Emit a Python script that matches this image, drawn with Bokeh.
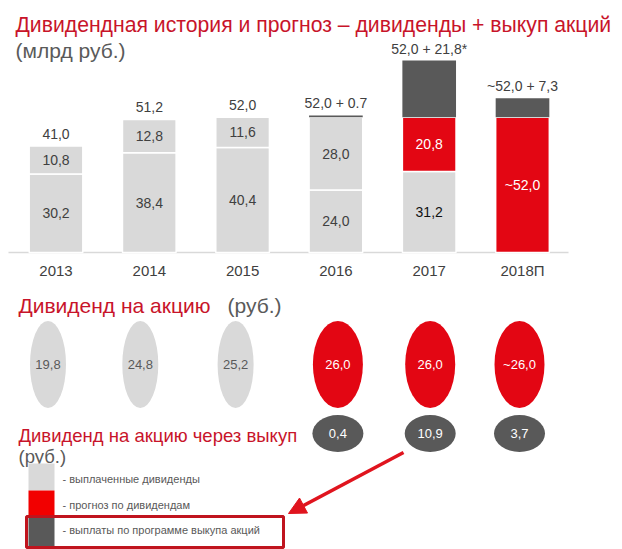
from bokeh.plotting import figure
from bokeh.models import Range1d, ColumnDataSource, Arrow, NormalHead
from bokeh.core.properties import value
from bokeh.embed import file_html
from bokeh.resources import INLINE

# ---------------- data ----------------
years = ["2013", "2014", "2015", "2016", "2017", "2018П"]
paid_base = [30.2, 38.4, 40.4, 24.0, 31.2, 0.0]
paid_top = [10.8, 12.8, 11.6, 28.0, 0.0, 0.0]
forecast = [0.0, 0.0, 0.0, 0.0, 20.8, 52.0]
buyback = [0.0, 0.0, 0.0, 0.7, 21.8, 7.3]
total_labels = ["41,0", "51,2", "52,0", "52,0 + 0.7", "52,0 + 21,8*", "~52,0 + 7,3"]
base_labels = ["30,2", "38,4", "40,4", "24,0", "31,2", ""]
top_labels = ["10,8", "12,8", "11,6", "28,0", "", ""]
forecast_labels = ["", "", "", "", "20,8", "~52,0"]

dps = [19.8, 24.8, 25.2, 26.0, 26.0, 26.0]
dps_labels = ["19,8", "24,8", "25,2", "26,0", "26,0", "~26,0"]
dps_kind = ["paid", "paid", "paid", "forecast", "forecast", "forecast"]

bb_years = ["2016", "2017", "2018П"]
bb_dps = [0.4, 10.9, 3.7]
bb_dps_labels = ["0,4", "10,9", "3,7"]

legend_labels = ["- выплаченные дивиденды", "- прогноз по дивидендам",
                 "- выплаты по программе выкупа акций"]

title1 = "Дивидендная история и прогноз – дивиденды + выкуп акций"
title2 = "(млрд руб.)"
head2 = "Дивиденд на акцию"
head3 = "Дивиденд на акцию через выкуп"
unit_rub = "(руб.)"

# ---------------- layout ----------------
W, H = 622, 549
PXU = 2.6      # pixels per bln rub
PXC = 93.3     # pixels per category
BASE_PY = 252
X_LO = -55.5 / PXC
X_HI = X_LO + W / PXC
Y_HI = BASE_PY / PXU
Y_LO = Y_HI - H / PXU


def X(px):
    return X_LO + px / PXC


def Y(py):
    return Y_HI - py / PXU


LGRAY = "#d9d9d9"
RED = "#e30613"
DGRAY = "#595959"
TRED = "#c8142a"
TXT = "#404040"
FONT = value("Liberation Sans")

p = figure(width=W, height=H, x_range=Range1d(X_LO, X_HI), y_range=Range1d(Y_LO, Y_HI),
           output_backend="svg", toolbar_location=None, min_border=0,
           x_axis_location=None, y_axis_location=None)
p.grid.visible = False
p.outline_line_color = None
p.background_fill_color = "white"
p.border_fill_color = "white"

idx = list(range(len(years)))

# baseline
p.segment(x0=[X(8)], y0=[0], x1=[X(568)], y1=[0], line_color=LGRAY, line_width=1.5)

# stacked bars
b1 = paid_base
b2 = [a + b for a, b in zip(b1, paid_top)]
b3 = [a + b for a, b in zip(b2, forecast)]
b4 = [a + b for a, b in zip(b3, buyback)]
layers = [([0] * 6, b1, LGRAY, "white"), (b1, b2, LGRAY, "white"),
          (b2, b3, RED, "white"), (b3, b4, DGRAY, None)]
for bot, top, col, lc in layers:
    xs = [i for i in idx if top[i] > bot[i]]
    p.vbar(x=xs, bottom=[bot[i] for i in xs], top=[top[i] for i in xs], width=0.575,
           fill_color=col, line_color=lc, line_width=1.5)


def txt(x, y, text, size, color, align="center", baseline="middle", **kw):
    src = ColumnDataSource(dict(x=x, y=y, text=text, color=color))
    p.text(x="x", y="y", text="text", source=src, text_color="color",
           text_font=FONT, text_font_size=value(size), text_align=align,
           text_baseline=baseline, **kw)


# labels in segments
bl_col = [TXT, TXT, TXT, TXT, "#111111", TXT]
ii = [i for i in idx if base_labels[i]]
txt(ii, [b1[i] / 2 for i in ii], [base_labels[i] for i in ii], "14px", [bl_col[i] for i in ii])
ii = [i for i in idx if top_labels[i]]
txt(ii, [(b1[i] + b2[i]) / 2 for i in ii], [top_labels[i] for i in ii], "14px", [TXT] * len(ii))
ii = [i for i in idx if forecast_labels[i]]
txt(ii, [(b2[i] + b3[i]) / 2 for i in ii], [forecast_labels[i] for i in ii], "14px", ["white"] * len(ii))
# totals
txt(idx, b4, total_labels, "14px", [TXT] * 6, y_offset=-12)
# years
txt(idx, [Y(270)] * 6, years, "15px", [TXT] * 6)

# headings
txt([X(15)], [Y(24)], [title1], "21.2px", [TRED], align="left", baseline="alphabetic")
txt([X(15)], [Y(50)], [title2], "21px", ["#5a5a5a"], align="left", baseline="alphabetic")
txt([X(18)], [Y(305)], [head2], "21px", [TRED], align="left", baseline="alphabetic")
txt([X(227)], [Y(305)], [unit_rub], "21px", ["#5a5a5a"], align="left", baseline="alphabetic")
txt([X(18)], [Y(435)], [head3], "18.5px", [TRED], align="left", baseline="alphabetic")
txt([X(18)], [Y(456)], [unit_rub], "18.5px", ["#5a5a5a"], align="left", baseline="alphabetic")

# dividend per share ellipses
dps_dx = [-8, -9, -7, 2, 1, -3]
ex = [i + d / PXC for i, d in zip(idx, dps_dx)]
ecol = [LGRAY if k == "paid" else RED for k in dps_kind]
ew = [36 if k == "paid" else 50 for k in dps_kind]
p.ellipse(x=ex, y=[Y(364)] * 6, width=ew, height=[87] * 6, width_units="screen",
          height_units="screen", fill_color=ecol, line_color=None)
tcol = ["#595959" if k == "paid" else "white" for k in dps_kind]
txt(ex, [Y(364)] * 6, dps_labels, "13px", tcol)

# buyback per share ellipses
bx = [years.index(y) + dps_dx[years.index(y)] / PXC for y in bb_years]
p.ellipse(x=bx, y=[Y(433)] * 3, width=[51] * 3, height=[37] * 3, width_units="screen",
          height_units="screen", fill_color=DGRAY, line_color=None)
txt(bx, [Y(433)] * 3, bb_dps_labels, "13px", ["white"] * 3)

# legend
p.quad(left=[X(28)] * 3, right=[X(54)] * 3, top=[Y(463), Y(490), Y(517)],
       bottom=[Y(490), Y(517), Y(547)], fill_color=[LGRAY, "#f20000", DGRAY], line_color=None)
txt([X(62)] * 3, [Y(478), Y(504), Y(529)], legend_labels, "11px", ["#595959"] * 3,
    align="left")
p.quad(left=[X(26)], right=[X(283)], top=[Y(516)], bottom=[Y(547)], fill_alpha=0,
       line_color="#c0141e", line_width=3)

# arrow
p.add_layout(Arrow(x_start=X(403), y_start=Y(452), x_end=X(288), y_end=Y(513),
                   line_color="#e0141e", line_width=3.5,
                   end=NormalHead(size=17, fill_color="#e0141e", line_color="#e0141e")))

open("out.html", "w").write(file_html(p, INLINE))
